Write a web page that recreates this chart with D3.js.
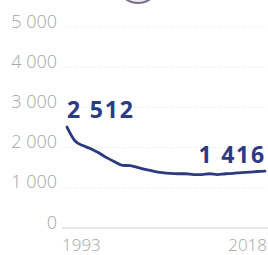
<!DOCTYPE html>
<html><head><meta charset="utf-8">
<script src="https://cdn.jsdelivr.net/npm/d3@7"></script>
<style>html,body{margin:0;padding:0;background:#fff;}svg{display:block;}</style>
</head><body>
<svg id="c" width="268" height="255"></svg>
<script>
const years = d3.range(1993, 2019);
const values = [2512, 2170, 2050, 1970, 1870, 1750, 1650, 1560, 1550, 1500, 1450, 1410, 1380, 1360, 1350, 1350, 1330, 1330, 1350, 1330, 1350, 1360, 1380, 1390, 1405, 1416];
const yTicks = [0, 1000, 2000, 3000, 4000, 5000];
const xTickLabels = ["1993", "2018"];
const endLabels = ["2 512", "1 416"];

const svg = d3.select("#c");
const x = d3.scaleLinear().domain([1993, 2018]).range([67, 265]);
const y = d3.scaleLinear().domain([0, 5000]).range([228, 27]);

// decorative partial circle at top (cut off in the reference)
svg.append("circle").attr("cx", 138).attr("cy", -18).attr("r", 21)
  .attr("fill", "#eeeaf2").attr("stroke", "#7a6f8c").attr("stroke-width", 2);

// gridlines
svg.append("g").selectAll("line").data(yTicks).join("line")
  .attr("x1", 62).attr("x2", 268)
  .attr("y1", d => y(d)).attr("y2", d => y(d))
  .attr("stroke", d => d === 0 ? "#d0d0d0" : "#e2e2e2")
  .attr("stroke-width", 1)
  .attr("stroke-dasharray", d => d === 0 ? null : "1,2");

const yAxis = d3.axisLeft(y).tickValues(yTicks).tickSize(0).tickPadding(0)
  .tickFormat(d => d === 0 ? "0" : d3.format(",")(d).replace(/,/g, " "));
const ax = svg.append("g").attr("transform", "translate(57,0)").call(yAxis);
ax.select(".domain").remove();
ax.selectAll("text").attr("font-family", "'Open Sans', sans-serif")
  .attr("font-size", 18).attr("font-weight", 300).attr("fill", "#a5a5a5")
  .attr("dy", "0").attr("y", 0);

// x labels
const xa = svg.append("g").attr("transform", "translate(0,251)");
xa.append("text").attr("x", 62).attr("text-anchor", "start").text(xTickLabels[0]);
xa.append("text").attr("x", 267).attr("text-anchor", "end").text(xTickLabels[1]);
xa.selectAll("text").attr("font-family", "'Open Sans', sans-serif")
  .attr("font-size", 17).attr("font-weight", 300).attr("fill", "#a5a5a5");

// line
const line = d3.line().x((d, i) => x(years[i])).y(d => y(d)).curve(d3.curveMonotoneX);
svg.append("path").datum(values).attr("d", line)
  .attr("fill", "none").attr("stroke", "#2e3a7e").attr("stroke-width", 2.8)
  .attr("stroke-linejoin", "round").attr("stroke-linecap", "round");

// value labels
const vl = svg.append("g");
vl.append("text").attr("x", 67).attr("y", 118).text(endLabels[0]).attr("text-anchor", "start");
vl.append("text").attr("x", 266).attr("y", 163).text(endLabels[1]).attr("text-anchor", "end");
vl.selectAll("text")
  .attr("font-family", "'Open Sans', sans-serif").attr("font-weight", 700)
  .attr("font-size", 23).attr("fill", "#2b3a85").attr("letter-spacing", 1.8);
</script>
</body></html>
